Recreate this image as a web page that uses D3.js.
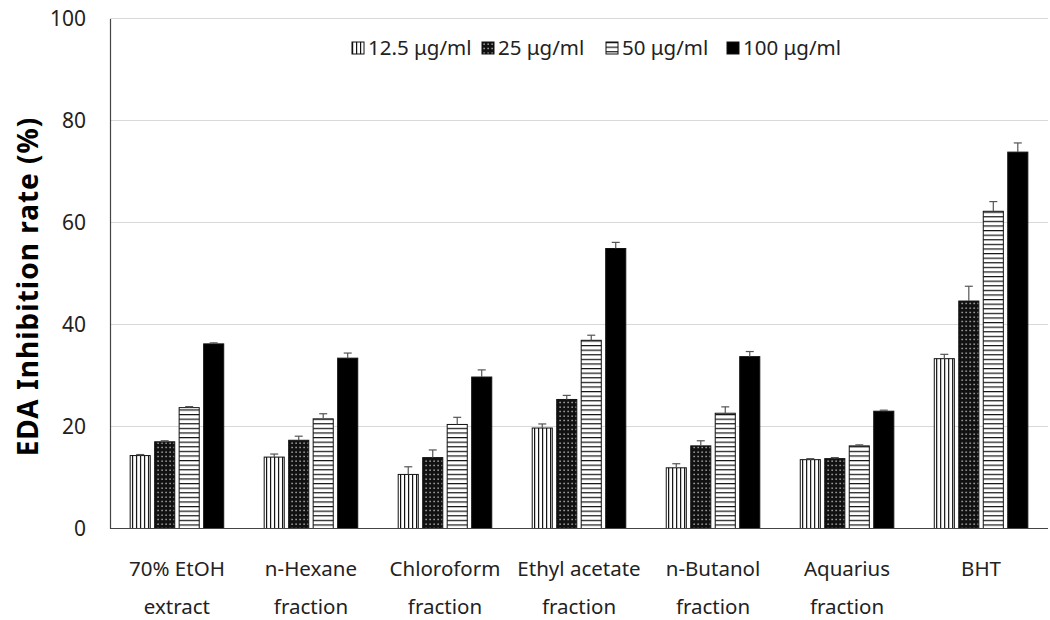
<!DOCTYPE html>
<html>
<head>
<meta charset="utf-8">
<script src="https://cdn.jsdelivr.net/npm/d3@7"></script>
<style>
  body { margin: 0; background: #fff; }
  svg text { font-family: "Noto Sans", "Open Sans", sans-serif; }
</style>
</head>
<body>
<div id="chart"></div>
<script>
// data
const categories = [
  ['70% EtOH', 'extract'],
  ['n-Hexane', 'fraction'],
  ['Chloroform', 'fraction'],
  ['Ethyl acetate', 'fraction'],
  ['n-Butanol', 'fraction'],
  ['Aquarius', 'fraction'],
  ['BHT']
];
const series = ['12.5 μg/ml', '25 μg/ml', '50 μg/ml', '100 μg/ml'];
const values = [
  [14.3, 17.0, 23.7, 36.2],
  [14.0, 17.3, 21.5, 33.4],
  [10.6, 13.9, 20.4, 29.7],
  [19.7, 25.3, 36.9, 54.9],
  [11.9, 16.2, 22.6, 33.7],
  [13.5, 13.7, 16.2, 23.0],
  [33.3, 44.6, 62.2, 73.8]
];
const errors = [
  [0.2, 0.2, 0.2, 0.2],
  [0.6, 0.8, 1.0, 1.0],
  [1.5, 1.5, 1.4, 1.4],
  [0.8, 0.8, 1.0, 1.2],
  [0.8, 1.0, 1.25, 1.0],
  [0.2, 0.2, 0.2, 0.2],
  [0.85, 2.9, 1.9, 1.8]
];
const yTicks = [0, 20, 40, 60, 80, 100];

const W = 1050, H = 620;
const margin = { top: 18.5, right: 2, bottom: 91.5, left: 110 };

const svg = d3.select('#chart').append('svg')
  .attr('width', W)
  .attr('height', H);

// fill patterns
const defs = svg.append('defs');
const pv = defs.append('pattern').attr('id', 'p-vert')
  .attr('patternUnits', 'userSpaceOnUse').attr('width', 4).attr('height', 4);
pv.append('rect').attr('width', 4).attr('height', 4).attr('fill', '#fff');
pv.append('rect').attr('x', 0).attr('width', 1.2).attr('height', 4).attr('fill', '#111');

const pd = defs.append('pattern').attr('id', 'p-dots')
  .attr('patternUnits', 'userSpaceOnUse').attr('width', 4).attr('height', 4.5);
pd.append('rect').attr('width', 4).attr('height', 4.5).attr('fill', '#111');
pd.append('rect').attr('x', 1.5).attr('y', 1.5).attr('width', 1.2).attr('height', 1.2).attr('fill', '#fff');

const ph = defs.append('pattern').attr('id', 'p-horz')
  .attr('patternUnits', 'userSpaceOnUse').attr('width', 4).attr('height', 4.6);
ph.append('rect').attr('width', 4).attr('height', 4.6).attr('fill', '#fff');
ph.append('rect').attr('y', 0).attr('width', 4).attr('height', 1.2).attr('fill', '#111');

const fills = ['url(#p-vert)', 'url(#p-dots)', 'url(#p-horz)', '#000'];

const x0 = d3.scaleBand()
  .domain(d3.range(categories.length))
  .range([margin.left, W - margin.right])
  .paddingInner(0.269)
  .paddingOuter(0.134);
const x1 = d3.scaleBand()
  .domain(d3.range(series.length))
  .range([0, x0.bandwidth()])
  .paddingInner(0.18)
  .paddingOuter(0.09);
const y = d3.scaleLinear()
  .domain([0, 100])
  .range([H - margin.bottom, margin.top]);

// grid lines
svg.append('g')
  .selectAll('line')
  .data(yTicks.filter(d => d > 0))
  .enter()
  .append('line')
  .attr('x1', margin.left)
  .attr('x2', W - margin.right)
  .attr('y1', d => y(d))
  .attr('y2', d => y(d))
  .attr('stroke', '#d9d9d9')
  .attr('stroke-width', 1.2);

// y axis
const yAxis = svg.append('g')
  .attr('transform', `translate(${margin.left},0)`)
  .call(d3.axisLeft(y).tickValues(yTicks).tickSize(0).tickPadding(24));
yAxis.select('.domain').attr('stroke', '#444').attr('stroke-width', 1.2);
yAxis.selectAll('text')
  .attr('font-size', 21)
  .attr('fill', '#222')
  .style('font-family', '"Noto Sans", sans-serif');

svg.append('text')
  .attr('transform', `translate(38, ${(margin.top + H - margin.bottom) / 2 + 13}) rotate(-90)`)
  .attr('text-anchor', 'middle')
  .attr('font-size', 28)
  .attr('font-weight', 'bold')
  .attr('letter-spacing', 1)
  .attr('fill', '#000')
  .text('EDA Inhibition rate (%)');

// bars
const groups = svg.append('g')
  .selectAll('g')
  .data(values)
  .enter()
  .append('g')
  .attr('transform', (d, i) => `translate(${x0(i)},0)`);

groups.selectAll('rect')
  .data(d => d)
  .enter()
  .append('rect')
  .attr('x', (d, j) => x1(j))
  .attr('y', d => y(d))
  .attr('width', x1.bandwidth())
  .attr('height', d => y(0) - y(d))
  .attr('fill', (d, j) => fills[j])
  .attr('stroke', '#111')
  .attr('stroke-width', 1);

// error bars (upper only)
groups.each(function (d, i) {
  const g = d3.select(this);
  d.forEach((v, j) => {
    const cx = x1(j) + x1.bandwidth() / 2;
    const top = y(v + errors[i][j]);
    g.append('line')
      .attr('x1', cx).attr('x2', cx)
      .attr('y1', y(v)).attr('y2', top)
      .attr('stroke', '#555').attr('stroke-width', 1.2);
    g.append('line')
      .attr('x1', cx - 4).attr('x2', cx + 4)
      .attr('y1', top).attr('y2', top)
      .attr('stroke', '#555').attr('stroke-width', 1.2);
  });
});

// baseline
svg.append('line')
  .attr('x1', margin.left)
  .attr('x2', W - margin.right)
  .attr('y1', y(0))
  .attr('y2', y(0))
  .attr('stroke', '#444')
  .attr('stroke-width', 1.2);

// category labels
const labels = svg.append('g')
  .selectAll('text')
  .data(categories)
  .enter()
  .append('text')
  .attr('text-anchor', 'middle')
  .attr('font-size', 20.5)
  .attr('fill', '#222')
  .attr('x', (d, i) => x0(i) + x0.bandwidth() / 2)
  .attr('y', 576);
labels.selectAll('tspan')
  .data(d => d)
  .enter()
  .append('tspan')
  .attr('x', function () { return d3.select(this.parentNode).attr('x'); })
  .attr('dy', (d, k) => k === 0 ? 0 : 38)
  .text(d => d);

// legend
const legendX = [352, 482, 606, 727];
const legend = svg.append('g')
  .selectAll('g')
  .data(series)
  .enter()
  .append('g')
  .attr('transform', (d, j) => `translate(${legendX[j]},42)`);
legend.append('rect')
  .attr('width', 12)
  .attr('height', 12)
  .attr('fill', (d, j) => fills[j])
  .attr('stroke', '#111')
  .attr('stroke-width', 1);
legend.append('text')
  .attr('x', 16)
  .attr('y', 13)
  .attr('font-size', 20.5)
  .attr('fill', '#222')
  .text(d => d);
</script>
</body>
</html>
